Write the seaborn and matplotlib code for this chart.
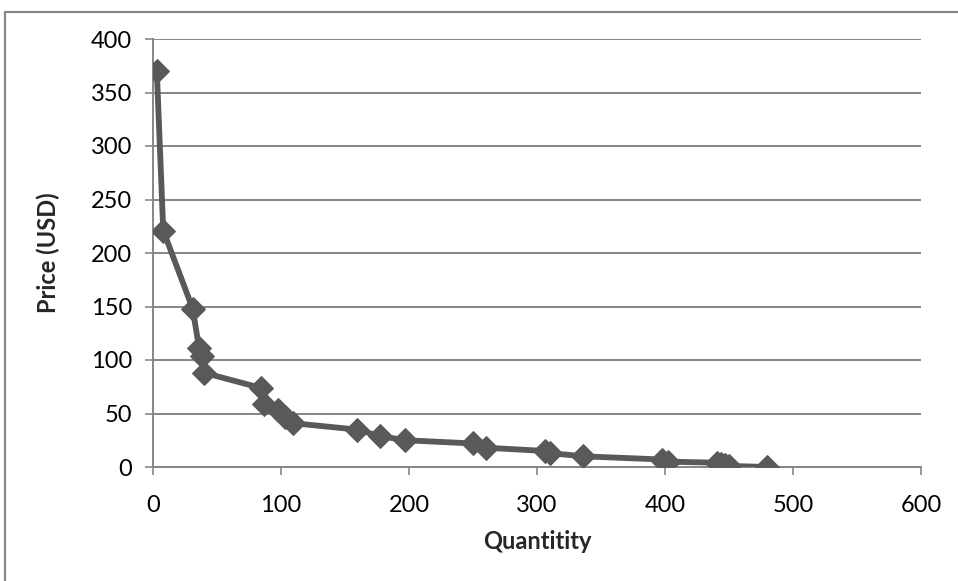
import matplotlib
matplotlib.use('Agg')
import matplotlib.pyplot as plt
from matplotlib.lines import Line2D
import seaborn as sns
import pandas as pd

# values
quantity = [3, 8, 31, 36, 38, 40, 84, 87, 98, 103, 109, 159, 177, 197,
            250, 260, 306, 310, 336, 398, 402, 441, 444, 447, 450, 480]
price = [370, 221, 148, 111, 104, 88, 74, 59, 53, 47, 41, 35, 29, 25,
         22, 18, 15, 13, 10, 7, 5, 4, 3, 2, 1, 0]
x_ticks = [0, 100, 200, 300, 400, 500, 600]
y_ticks = [0, 50, 100, 150, 200, 250, 300, 350, 400]

df = pd.DataFrame({"Quantity": quantity, "Price": price})

sns.set_style("white")
plt.rcParams['font.family'] = ['Lato', 'DejaVu Sans']

grey = "#868686"
fig = plt.figure(figsize=(9.58, 5.81), dpi=100)
ax = fig.add_axes([153 / 958, 1 - 467 / 581, (921 - 153) / 958, (467 - 39) / 581])

sns.lineplot(data=df, x="Quantity", y="Price", ax=ax, sort=False, estimator=None,
             color="#595959", linewidth=4.2, marker="D", markersize=12,
             markeredgecolor="#595959", zorder=3)

ax.set_xlim(0, 600)
ax.set_ylim(0, 400)
ax.set_xticks(x_ticks)
ax.set_yticks(y_ticks)
ax.grid(axis="y", color=grey, linewidth=1.4)
ax.set_axisbelow(True)
for side in ["top", "right"]:
    ax.spines[side].set_visible(False)
for side in ["left", "bottom"]:
    ax.spines[side].set_color(grey)
    ax.spines[side].set_linewidth(1.4)
ax.tick_params(axis="both", direction="out", length=6, width=1.2, color=grey,
               labelsize=17, labelcolor="black", pad=8)
ax.tick_params(axis="x", bottom=True, pad=14)
ax.tick_params(axis="y", left=True, pad=9)

ax.set_xlabel("Quantitity", fontsize=17, fontweight="bold", labelpad=10)
ax.set_ylabel("Price (USD)", fontsize=17, fontweight="bold", labelpad=22)

# outer chart frame (top and left edges visible)
fig.add_artist(Line2D([5 / 958, 1.0], [1 - 12 / 581, 1 - 12 / 581],
                      color=grey, linewidth=1.6, transform=fig.transFigure))
fig.add_artist(Line2D([5 / 958, 5 / 958], [0.0, 1 - 12 / 581],
                      color=grey, linewidth=1.6, transform=fig.transFigure))

fig.savefig("out.png", dpi=100)
